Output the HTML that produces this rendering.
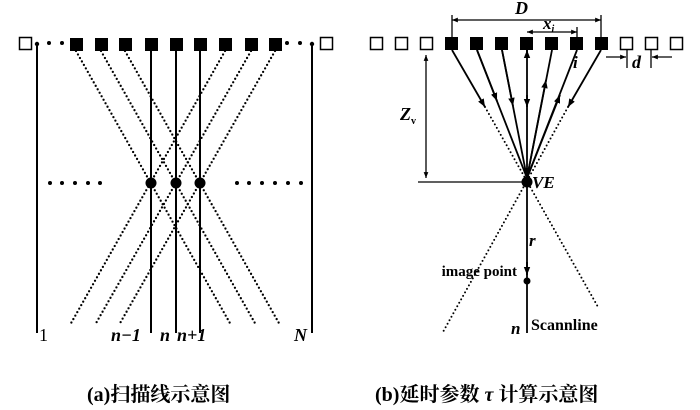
<!DOCTYPE html>
<html><head><meta charset="utf-8"><style>
html,body{margin:0;padding:0;background:#fff;}
svg{display:block;}
.t{font-family:"Liberation Serif","Noto Serif CJK SC",serif;}
</style></head><body>
<svg width="700" height="410" viewBox="0 0 700 410" xmlns="http://www.w3.org/2000/svg">
<defs>
<marker id="ar" viewBox="0 0 10 10" refX="10" refY="5" markerWidth="4.5" markerHeight="4.5" orient="auto-start-reverse"><path d="M0,1 L10,5 L0,9 z" fill="#000"/></marker>
</defs>
<g stroke="#000" fill="none">
<!-- LEFT PANEL -->
<rect x="19.5" y="37.5" width="12" height="12" stroke-width="1.5"/>
<rect x="320.5" y="37.5" width="12" height="12" stroke-width="1.5"/>
<g fill="#000" stroke="none">
<rect x="70" y="38" width="13" height="13"/><rect x="95" y="38" width="13" height="13"/><rect x="119" y="38" width="13" height="13"/>
<rect x="145" y="38" width="13" height="13"/><rect x="170" y="38" width="13" height="13"/><rect x="194" y="38" width="13" height="13"/>
<rect x="219" y="38" width="13" height="13"/><rect x="245" y="38" width="13" height="13"/><rect x="269" y="38" width="13" height="13"/>
<circle cx="37" cy="44" r="2.2"/><circle cx="49" cy="43" r="2"/><circle cx="62" cy="43" r="2"/>
<circle cx="287" cy="43" r="2"/><circle cx="300" cy="43" r="2"/><circle cx="312" cy="44" r="2.2"/>
<circle cx="50" cy="183" r="2"/><circle cx="62" cy="183" r="2"/><circle cx="75" cy="183" r="2"/><circle cx="88" cy="183" r="2"/><circle cx="100" cy="183" r="2"/>
<circle cx="237" cy="183" r="2"/><circle cx="249" cy="183" r="2"/><circle cx="262" cy="183" r="2"/><circle cx="275" cy="183" r="2"/><circle cx="288" cy="183" r="2"/><circle cx="301" cy="183" r="2"/>
<circle cx="151" cy="183" r="5.5"/><circle cx="176" cy="183" r="5.5"/><circle cx="200" cy="183" r="5.5"/>
</g>
<g stroke-width="2">
<line x1="37" y1="44" x2="37" y2="333"/><line x1="312" y1="44" x2="312" y2="333"/>
<line x1="151" y1="44" x2="151" y2="333"/><line x1="176" y1="44" x2="176" y2="333"/><line x1="200" y1="44" x2="200" y2="333"/>
</g>
<g stroke-width="2.3" stroke-dasharray="0 4" stroke-linecap="round">
<line x1="76" y1="51" x2="231" y2="325"/><line x1="101" y1="51" x2="256" y2="325"/><line x1="125" y1="51" x2="280" y2="325"/>
<line x1="275" y1="51" x2="119" y2="325"/><line x1="251" y1="51" x2="95" y2="325"/><line x1="225" y1="51" x2="70" y2="325"/>
</g>

<!-- RIGHT PANEL -->
<g stroke-width="1.5">
<rect x="370.5" y="37.5" width="12" height="12"/><rect x="395.5" y="37.5" width="12" height="12"/><rect x="420.5" y="37.5" width="12" height="12"/>
<rect x="620.5" y="37.5" width="12" height="12"/><rect x="645.5" y="37.5" width="12" height="12"/><rect x="670.5" y="37.5" width="12" height="12"/>
</g>
<g fill="#000" stroke="none">
<rect x="445" y="37" width="13" height="13"/><rect x="470" y="37" width="13" height="13"/><rect x="495" y="37" width="13" height="13"/>
<rect x="520" y="37" width="13" height="13"/><rect x="545" y="37" width="13" height="13"/><rect x="570" y="37" width="13" height="13"/><rect x="595" y="37" width="13" height="13"/>
<circle cx="527" cy="182" r="5.5"/><circle cx="527" cy="281" r="3.5"/>
</g>
<g stroke-width="1.3">
<line x1="452" y1="15" x2="452" y2="37"/><line x1="601" y1="15" x2="601" y2="37"/>
<line x1="452" y1="20" x2="601" y2="20" marker-start="url(#ar)" marker-end="url(#ar)"/>
<line x1="577" y1="27" x2="577" y2="37"/>
<line x1="527" y1="32" x2="577" y2="32" marker-start="url(#ar)" marker-end="url(#ar)"/>
<line x1="627" y1="50" x2="627" y2="68"/><line x1="651" y1="50" x2="651" y2="68"/>
<line x1="606" y1="57" x2="626" y2="57" marker-end="url(#ar)"/>
<line x1="672" y1="57" x2="652" y2="57" marker-end="url(#ar)"/>
<line x1="426" y1="55" x2="426" y2="178" marker-start="url(#ar)" marker-end="url(#ar)"/>
<line x1="418" y1="182" x2="522" y2="182"/>
</g>
<g stroke-width="1.8">
<line x1="527" y1="50" x2="527" y2="333"/>
<line x1="527" y1="56" x2="527" y2="50" marker-end="url(#ar)"/>
<line x1="527" y1="95" x2="527" y2="107" marker-end="url(#ar)"/>
<line x1="527" y1="262" x2="527" y2="275" marker-end="url(#ar)"/>
<line x1="452" y1="50" x2="485" y2="107" marker-end="url(#ar)"/>
<line x1="601" y1="50" x2="568" y2="107" marker-end="url(#ar)"/>
<line x1="477" y1="50" x2="527" y2="178"/><line x1="477" y1="50" x2="497" y2="101" marker-end="url(#ar)"/>
<line x1="502" y1="50" x2="527" y2="178"/><line x1="502" y1="50" x2="513" y2="106" marker-end="url(#ar)"/>
<line x1="552" y1="50" x2="527" y2="178"/><line x1="527" y1="178" x2="546" y2="80" marker-end="url(#ar)"/>
<line x1="577" y1="50" x2="527" y2="178"/><line x1="527" y1="178" x2="560" y2="95" marker-end="url(#ar)"/>
<line x1="527" y1="170" x2="527" y2="176" marker-end="url(#ar)"/>
</g>
<g stroke-width="2" stroke-dasharray="0 4" stroke-linecap="round">
<line x1="485" y1="107" x2="598" y2="307"/>
<line x1="568" y1="107" x2="443" y2="332"/>
</g>
</g>
<g class="t" fill="#000" font-size="18" font-style="italic" font-weight="bold">
<text x="39" y="341" font-style="normal" font-weight="normal">1</text>
<text x="111" y="341">n−1</text>
<text x="160" y="341">n</text>
<text x="177" y="341">n+1</text>
<text x="294" y="341">N</text>
<text x="515" y="14" font-size="18">D</text>
<text x="543" y="29" font-size="17">x<tspan font-size="10" dy="3">i</tspan></text>
<text x="573" y="68" font-size="17">i</text>
<text x="632" y="68" font-size="18">d</text>
<text x="400" y="120" font-size="18">Z<tspan font-size="10" dy="4" font-style="normal">v</tspan></text>
<text x="532" y="188" font-size="17">VE</text>
<text x="529" y="246" font-size="17">r</text>
<text x="511" y="334" font-size="17">n</text>
</g>
<g class="t" fill="#000" font-weight="bold">
<text x="517" y="276" font-size="15" text-anchor="end">image point</text>
<text x="531" y="330" font-size="16">Scannline</text>
<text x="87" y="401" font-size="20">(a)扫描线示意图</text>
<text x="375" y="401" font-size="20">(b)延时参数 <tspan font-style="italic">τ</tspan> 计算示意图</text>
</g>
</svg>
</body></html>
